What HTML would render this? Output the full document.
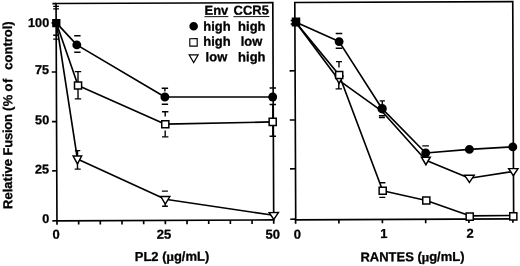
<!DOCTYPE html>
<html><head><meta charset="utf-8"><title>Figure</title>
<style>
html,body{margin:0;padding:0;background:#fff;}
body{width:520px;height:266px;overflow:hidden;font-family:"Liberation Sans",sans-serif;}
svg{display:block;}
</style></head><body>
<svg width="520" height="266" viewBox="0 0 520 266">
<rect width="520" height="266" fill="#fff"/>
<defs><filter id="b" x="0" y="0" width="520" height="266" filterUnits="userSpaceOnUse"><feGaussianBlur stdDeviation="0.45"/></filter></defs>
<g filter="url(#b)"><g transform="rotate(-0.24 260.0 133.0)">
<g fill="none" stroke="#000" stroke-width="1.65" stroke-linecap="butt">
<rect x="56.6" y="2.7" width="216.75" height="217.25"/>
<rect x="295.35" y="2.7" width="217.95" height="217.25"/>
<line x1="56.60" y1="219.95" x2="56.60" y2="223.85"/>
<line x1="78.28" y1="219.95" x2="78.28" y2="223.85"/>
<line x1="99.95" y1="219.95" x2="99.95" y2="223.85"/>
<line x1="121.62" y1="219.95" x2="121.62" y2="223.85"/>
<line x1="143.30" y1="219.95" x2="143.30" y2="223.85"/>
<line x1="164.98" y1="219.95" x2="164.98" y2="223.85"/>
<line x1="186.65" y1="219.95" x2="186.65" y2="223.85"/>
<line x1="208.33" y1="219.95" x2="208.33" y2="223.85"/>
<line x1="230.00" y1="219.95" x2="230.00" y2="223.85"/>
<line x1="251.68" y1="219.95" x2="251.68" y2="223.85"/>
<line x1="273.35" y1="219.95" x2="273.35" y2="223.85"/>
<line x1="295.23" y1="219.95" x2="295.23" y2="223.85"/>
<line x1="338.53" y1="219.95" x2="338.53" y2="223.85"/>
<line x1="382.03" y1="219.95" x2="382.03" y2="223.85"/>
<line x1="425.33" y1="219.95" x2="425.33" y2="223.85"/>
<line x1="468.53" y1="219.95" x2="468.53" y2="223.85"/>
<line x1="512.53" y1="219.95" x2="512.53" y2="223.85"/>
<line x1="52.0" y1="219.94" x2="56.6" y2="219.94"/>
<line x1="52.0" y1="169.94" x2="56.6" y2="169.94"/>
<line x1="52.0" y1="120.74" x2="56.6" y2="120.74"/>
<line x1="52.0" y1="71.14" x2="56.6" y2="71.14"/>
<line x1="52.0" y1="21.99" x2="56.6" y2="21.99"/>
<line x1="289.85" y1="219.34" x2="295.35" y2="219.34"/>
<line x1="289.85" y1="168.94" x2="295.35" y2="168.94"/>
<line x1="289.85" y1="120.14" x2="295.35" y2="120.14"/>
<line x1="289.85" y1="70.94" x2="295.35" y2="70.94"/>
<line x1="53.0" y1="2.7" x2="56.6" y2="2.7"/>
</g>
<path d="M56.86 22.05 L77.29 158.13 L165.02 198.90 L273.36 215.36" fill="none" stroke="#000" stroke-width="1.65" stroke-linejoin="round"/>
<path d="M56.86 22.05 L78.25 84.74 L165.34 123.80 L272.75 121.95" fill="none" stroke="#000" stroke-width="1.65" stroke-linejoin="round"/>
<path d="M56.86 22.05 L77.17 44.13 L165.05 96.60 L272.85 97.05" fill="none" stroke="#000" stroke-width="1.65" stroke-linejoin="round"/>
<path d="M53.73 5.55H59.53" fill="none" stroke="#000" stroke-width="1.4"/>
<path d="M53.72 8.05H59.52" fill="none" stroke="#000" stroke-width="1.4"/>
<path d="M53.61 34.45H59.41" fill="none" stroke="#000" stroke-width="1.4"/>
<path d="M53.60 38.25H59.40" fill="none" stroke="#000" stroke-width="1.4"/>
<path d="M74.61 34.94H81.01" fill="none" stroke="#000" stroke-width="1.4"/>
<path d="M74.54 51.44H80.94" fill="none" stroke="#000" stroke-width="1.4"/>
<path d="M161.89 87.90H168.29" fill="none" stroke="#000" stroke-width="1.4"/>
<path d="M165.09 87.90L165.07 91.20" fill="none" stroke="#000" stroke-width="1.4"/>
<path d="M161.82 103.80H168.22" fill="none" stroke="#000" stroke-width="1.4"/>
<path d="M269.79 88.05H276.19" fill="none" stroke="#000" stroke-width="1.4"/>
<path d="M269.72 104.55H276.12" fill="none" stroke="#000" stroke-width="1.4"/>
<path d="M75.06 70.84H81.46" fill="none" stroke="#000" stroke-width="1.4"/>
<path d="M74.94 98.14H81.34" fill="none" stroke="#000" stroke-width="1.4"/>
<path d="M78.26 70.84L78.14 98.14" fill="none" stroke="#000" stroke-width="1.4"/>
<path d="M162.09 111.40H168.49" fill="none" stroke="#000" stroke-width="1.4"/>
<path d="M165.29 111.40L165.27 116.20" fill="none" stroke="#000" stroke-width="1.4"/>
<path d="M161.98 136.45H168.38" fill="none" stroke="#000" stroke-width="1.4"/>
<path d="M165.21 130.10L165.18 136.45" fill="none" stroke="#000" stroke-width="1.4"/>
<path d="M269.59 136.35H275.99" fill="none" stroke="#000" stroke-width="1.4"/>
<path d="M272.92 104.55L272.79 136.35" fill="none" stroke="#000" stroke-width="1.4"/>
<path d="M74.83 149.84H80.23" fill="none" stroke="#000" stroke-width="1.4"/>
<path d="M77.43 149.84L77.41 155.24" fill="none" stroke="#000" stroke-width="1.4"/>
<path d="M74.55 168.34H80.55" fill="none" stroke="#000" stroke-width="1.4"/>
<path d="M77.38 161.24L77.35 168.34" fill="none" stroke="#000" stroke-width="1.4"/>
<path d="M161.66 190.70H167.66" fill="none" stroke="#000" stroke-width="1.4"/>
<path d="M161.79 205.90H167.59" fill="none" stroke="#000" stroke-width="1.4"/>
<path d="M164.91 202.10L164.89 205.90" fill="none" stroke="#000" stroke-width="1.4"/>
<path d="M73.03 155.26H81.58L77.31 163.15Z" fill="#fff" stroke="#000" stroke-width="1.45" stroke-linejoin="miter"/>
<path d="M160.51 196.13H169.56L165.04 203.72Z" fill="#fff" stroke="#000" stroke-width="1.45" stroke-linejoin="miter"/>
<path d="M268.84 212.68H278.09L273.47 219.57Z" fill="#fff" stroke="#000" stroke-width="1.45" stroke-linejoin="miter"/>
<rect x="74.70" y="81.19" width="7.1" height="7.1" fill="#fff" stroke="#000" stroke-width="1.5"/>
<rect x="161.79" y="120.25" width="7.1" height="7.1" fill="#fff" stroke="#000" stroke-width="1.5"/>
<rect x="269.20" y="118.40" width="7.1" height="7.1" fill="#fff" stroke="#000" stroke-width="1.5"/>
<circle cx="77.17" cy="44.13" r="4.45" fill="#000"/>
<circle cx="165.05" cy="96.60" r="4.45" fill="#000"/>
<circle cx="272.85" cy="97.05" r="4.45" fill="#000"/>
<rect x="52.61" y="18.10" width="8.3" height="8.3" fill="#000"/>
<path d="M295.96 22.25 L339.22 80.63 L381.99 111.71 L425.73 160.89 L469.21 179.08 L513.14 172.56" fill="none" stroke="#000" stroke-width="1.65" stroke-linejoin="round"/>
<path d="M295.96 22.25 L339.44 75.33 L382.46 191.21 L426.02 201.20 L469.35 216.68 L512.95 216.56" fill="none" stroke="#000" stroke-width="1.65" stroke-linejoin="round"/>
<path d="M295.96 22.25 L339.48 41.93 L382.20 109.21 L425.61 153.69 L469.33 150.28 L512.74 147.96" fill="none" stroke="#000" stroke-width="1.65" stroke-linejoin="round"/>
<path d="M336.12 33.83H342.72" fill="none" stroke="#000" stroke-width="1.4"/>
<path d="M336.05 48.53H342.65" fill="none" stroke="#000" stroke-width="1.4"/>
<path d="M336.30 61.93H342.30" fill="none" stroke="#000" stroke-width="1.4"/>
<path d="M339.30 61.93L339.27 67.93" fill="none" stroke="#000" stroke-width="1.4"/>
<path d="M335.78 89.23H342.18" fill="none" stroke="#000" stroke-width="1.4"/>
<path d="M339.01 83.33L338.98 89.23" fill="none" stroke="#000" stroke-width="1.4"/>
<path d="M379.83 101.41H385.03" fill="none" stroke="#000" stroke-width="1.4"/>
<path d="M382.43 101.41L382.42 105.01" fill="none" stroke="#000" stroke-width="1.4"/>
<path d="M378.97 116.31H384.97" fill="none" stroke="#000" stroke-width="1.4"/>
<path d="M378.96 118.01H384.96" fill="none" stroke="#000" stroke-width="1.4"/>
<path d="M379.59 183.31H385.19" fill="none" stroke="#000" stroke-width="1.4"/>
<path d="M379.03 197.91H385.03" fill="none" stroke="#000" stroke-width="1.4"/>
<path d="M422.24 146.59H428.84" fill="none" stroke="#000" stroke-width="1.4"/>
<path d="M335.36 76.66H343.11L339.24 83.75Z" fill="#fff" stroke="#000" stroke-width="1.45" stroke-linejoin="miter"/>
<path d="M421.32 157.92H430.17L425.75 165.41Z" fill="#fff" stroke="#000" stroke-width="1.45" stroke-linejoin="miter"/>
<path d="M464.40 176.20H474.05L469.22 183.29Z" fill="#fff" stroke="#000" stroke-width="1.45" stroke-linejoin="miter"/>
<path d="M508.53 169.69H517.78L513.15 176.78Z" fill="#fff" stroke="#000" stroke-width="1.45" stroke-linejoin="miter"/>
<rect x="335.89" y="71.78" width="7.1" height="7.1" fill="#fff" stroke="#000" stroke-width="1.5"/>
<rect x="378.91" y="187.66" width="7.1" height="7.1" fill="#fff" stroke="#000" stroke-width="1.5"/>
<rect x="422.47" y="197.65" width="7.1" height="7.1" fill="#fff" stroke="#000" stroke-width="1.5"/>
<rect x="465.80" y="213.93" width="7.1" height="7.1" fill="#fff" stroke="#000" stroke-width="1.5"/>
<rect x="509.40" y="213.91" width="7.1" height="7.1" fill="#fff" stroke="#000" stroke-width="1.5"/>
<circle cx="339.48" cy="41.93" r="4.45" fill="#000"/>
<circle cx="382.20" cy="109.21" r="4.7" fill="#000"/>
<circle cx="425.61" cy="153.69" r="4.45" fill="#000"/>
<circle cx="469.33" cy="150.28" r="4.45" fill="#000"/>
<circle cx="512.74" cy="147.96" r="4.45" fill="#000"/>
<rect x="292.21" y="17.75" width="8.5" height="9.0" fill="#000"/>
<path d="M291.17 20.64H296.57" fill="none" stroke="#000" stroke-width="1.4"/>
<path d="M291.16 24.14H296.56" fill="none" stroke="#000" stroke-width="1.4"/>
<g font-family="Liberation Sans, sans-serif" font-weight="bold" font-size="13" fill="#000" stroke="#000" stroke-width="0.3" stroke-linejoin="round">
<text x="49.65" y="26.02" text-anchor="end" font-size="12.7">100</text>
<text x="49.45" y="73.02" text-anchor="end" font-size="12.7">75</text>
<text x="49.24" y="123.32" text-anchor="end" font-size="12.7">50</text>
<text x="49.03" y="172.52" text-anchor="end" font-size="12.7">25</text>
<text x="48.82" y="222.12" text-anchor="end" font-size="12.7">0</text>
<text x="55.66" y="237.99" text-anchor="middle">0</text>
<text x="163.66" y="238.40" text-anchor="middle">25</text>
<text x="272.26" y="238.85" text-anchor="middle">50</text>
<text x="296.86" y="238.86" text-anchor="middle">0</text>
<text x="383.46" y="238.62" text-anchor="middle">1</text>
<text x="469.66" y="238.68" text-anchor="middle">2</text>
<text x="171.47" y="260.48" text-anchor="middle">PL2 (<tspan font-family="Liberation Serif, serif" font-weight="bold" font-size="13">μ</tspan>g/mL)</text>
<text x="411.96" y="261.84" text-anchor="middle">RANTES (<tspan font-family="Liberation Serif, serif" font-weight="bold" font-size="13">μ</tspan>g/mL)</text>
<text x="205.00" y="14.47" text-anchor="start">Env</text>
<text x="234.00" y="14.59" text-anchor="start">CCR5</text>
<text x="203.63" y="30.56" text-anchor="start">high</text>
<text x="238.53" y="30.71" text-anchor="start">high</text>
<text x="203.57" y="45.61" text-anchor="start">high</text>
<text x="241.07" y="45.77" text-anchor="start">low</text>
<text x="205.90" y="61.17" text-anchor="start">low</text>
<text x="238.40" y="61.31" text-anchor="start">high</text>
<text transform="translate(11.88 207.86) rotate(-90)">Relative</text>
<text transform="translate(12.11 154.36) rotate(-90)" textLength="41.3" lengthAdjust="spacing">Fusion</text>
<text transform="translate(12.29 109.96) rotate(-90)" textLength="16.4" lengthAdjust="spacing">(%</text>
<text transform="translate(12.38 90.46) rotate(-90)" textLength="12.8" lengthAdjust="spacing">of</text>
<text transform="translate(12.47 68.66) rotate(-90)">control)</text>
</g>
<path d="M204.99 16.47H228.79M233.89 16.59H269.79" stroke="#000" stroke-width="0.95" fill="none"/>
<circle cx="194.10" cy="26.02" r="4.3" fill="#000"/>
<rect x="190.18" y="38.42" width="7.4" height="7.4" fill="#fff" stroke="#000" stroke-width="1.15"/>
<path d="M189.45 54.60H198.50L193.98 62.30Z" fill="#fff" stroke="#000" stroke-width="1.15" stroke-linejoin="miter"/>
</g></g>
</svg>
</body></html>
